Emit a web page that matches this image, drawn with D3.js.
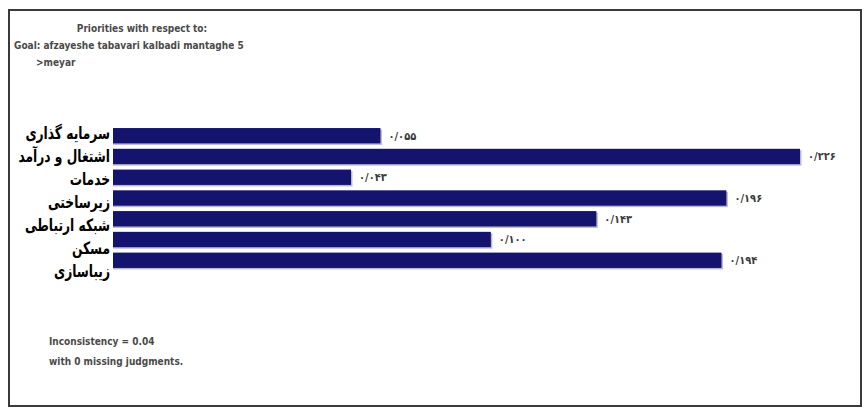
<!DOCTYPE html>
<html>
<head>
<meta charset="utf-8">
<script src="https://cdn.jsdelivr.net/npm/d3@7"></script>
<style>
  body { margin: 0; background: #fff; }
  svg { display: block; }
</style>
</head>
<body>
<svg id="chart" width="865" height="409"></svg>
<script>
// criteria (top to bottom) and their priorities
const categories = ["سرمایه گذاری", "اشتغال و درآمد", "خدمات", "زیرساختی", "شبکه ارتباطی", "مسکن", "زیباسازی"];
const priorities = [0.055, 0.226, 0.043, 0.196, 0.143, 0.100, 0.194];
const titleLines = ["Priorities with respect to:", "Goal: afzayeshe tabavari kalbadi mantaghe 5", ">meyar"];
const footLines = ["Inconsistency = 0.04", "with 0 missing judgments."];

const svg = d3.select("#chart");

// frame
svg.append("rect")
    .attr("x", 9).attr("y", 10)
    .attr("width", 852).attr("height", 396)
    .attr("fill", "#fff")
    .attr("stroke", "#3a3a3a")
    .attr("stroke-width", 2);

// header text
svg.append("g").selectAll("text")
    .data(titleLines)
    .join("text")
    .attr("x", (d, i) => i === 0 ? 142 : i === 1 ? 14 : 36)
    .attr("y", (d, i) => 32 + i * 17)
    .attr("text-anchor", (d, i) => i === 0 ? "middle" : "start")
    .attr("font-family", "DejaVu Sans Condensed, sans-serif")
    .attr("font-size", 10)
    .attr("font-weight", "bold")
    .attr("fill", "#4a4a4a")
    .text(d => d);

// bars: Expert Choice style bars start from a fixed left edge
const barLeft = 113;
const x = d3.scaleLinear()
    .domain([-0.054, 0.226])
    .range([barLeft, 800]);

const y = d3.scaleBand()
    .domain(categories)
    .range([127, 269])
    .paddingInner(0.26)
    .paddingOuter(0.05);

const bars = svg.append("g");
bars.selectAll("rect.shadow")
    .data(categories)
    .join("rect")
    .attr("class", "shadow")
    .attr("x", barLeft)
    .attr("y", d => y(d) + 1.5)
    .attr("width", (d, i) => x(priorities[i]) - barLeft + 1.5)
    .attr("height", y.bandwidth())
    .attr("fill", "#b8b8d6");

bars.selectAll("rect.bar")
    .data(categories)
    .join("rect")
    .attr("class", "bar")
    .attr("x", barLeft)
    .attr("y", d => y(d))
    .attr("width", (d, i) => x(priorities[i]) - barLeft)
    .attr("height", y.bandwidth())
    .attr("fill", "#14146e");

// persian digits with "/" as decimal sign
const faDigits = "۰۱۲۳۴۵۶۷۸۹";
const faNum = v => d3.format(".3f")(v).replace(/\d/g, c => faDigits[+c]).replace(".", "/");

bars.selectAll("text.val")
    .data(categories)
    .join("text")
    .attr("class", "val")
    .attr("x", (d, i) => x(priorities[i]) + 8)
    .attr("y", d => y(d) + y.bandwidth() / 2)
    .attr("dy", "0.35em")
    .attr("font-family", "DejaVu Sans Condensed, sans-serif")
    .attr("font-size", 11)
    .attr("font-weight", "bold")
    .attr("fill", "#3a3a3a")
    .attr("direction", "ltr")
    .text((d, i) => faNum(priorities[i]));

// criteria labels (slightly looser spacing than the bars)
const labelY = d3.scalePoint()
    .domain(categories)
    .range([133, 271]);

svg.append("g").selectAll("text")
    .data(categories)
    .join("text")
    .attr("transform", d => `translate(110,${labelY(d)}) scale(0.8,1)`)
    .attr("dy", "0.35em")
    .attr("text-anchor", "end")
    .attr("font-family", "DejaVu Sans Condensed, DejaVu Sans, sans-serif")
    .attr("font-size", 17)
    .attr("font-weight", "bold")
    .attr("fill", "#000")
    .text(d => d);

// footer
svg.append("g").selectAll("text")
    .data(footLines)
    .join("text")
    .attr("x", 49)
    .attr("y", (d, i) => 345 + i * 20)
    .attr("font-family", "DejaVu Sans Condensed, sans-serif")
    .attr("font-size", 10)
    .attr("font-weight", "bold")
    .attr("fill", "#4a4a4a")
    .text(d => d);
</script>
</body>
</html>
